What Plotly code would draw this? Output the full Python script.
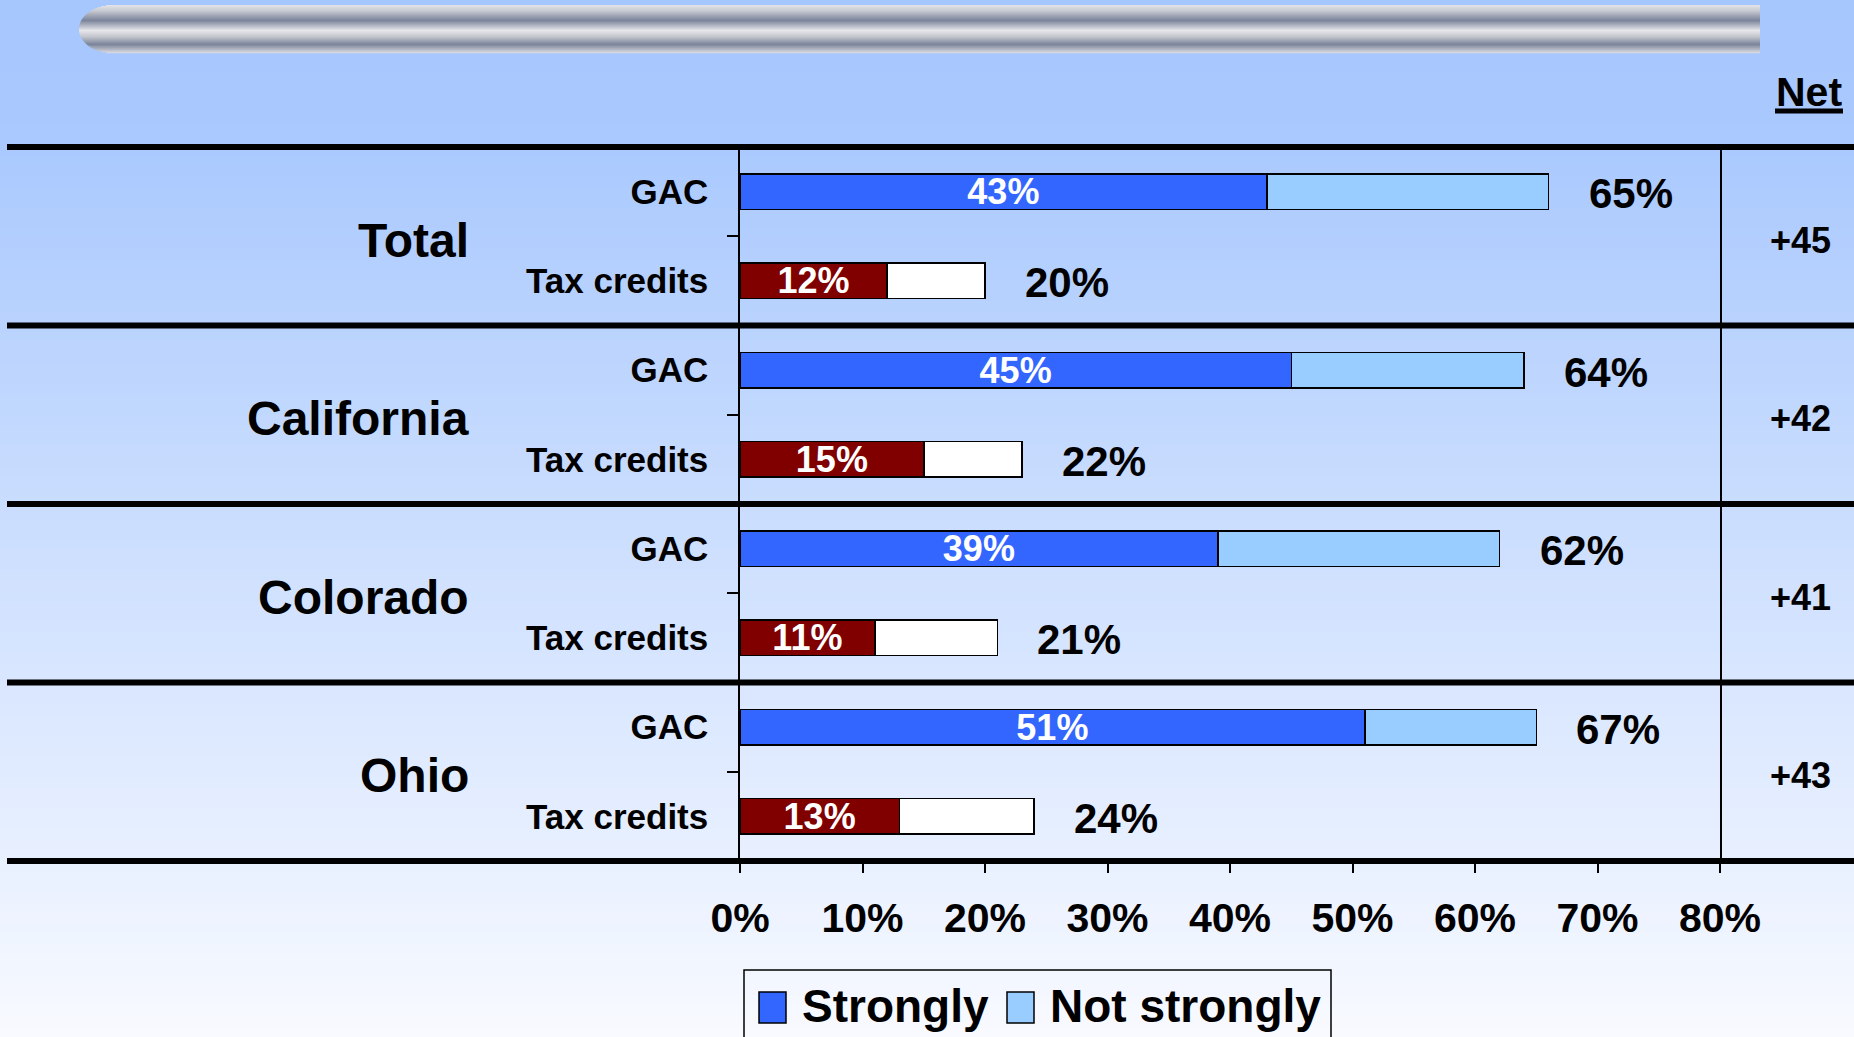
import plotly.graph_objects as go

W, H = 1854, 1037
FONT = "Liberation Sans, Arial, sans-serif"

groups = ["Total", "California", "Colorado", "Ohio"]
items = ["GAC", "Tax credits"]

gac_strongly = [43, 45, 39, 51]
gac_not_strongly = [23, 19, 23, 14]
gac_total_labels = ["65%", "64%", "62%", "67%"]

tax_strongly = [12, 15, 11, 13]
tax_not_strongly = [8, 8, 10, 11]
tax_total_labels = ["20%", "22%", "21%", "24%"]

net_labels = ["+45", "+42", "+41", "+43"]

x_ticks = [0, 10, 20, 30, 40, 50, 60, 70, 80]
legend_names = ["Strongly", "Not strongly"]

COLORS = {
    "gac_strong": "#3366FF",
    "gac_not": "#99CCFF",
    "tax_strong": "#800000",
    "tax_not": "#FFFFFF",
}

gac_pos = [2 * i for i in range(len(groups))]
tax_pos = [2 * i + 1 for i in range(len(groups))]


def px_x(x):
    return x / W


def px_y(y):
    return 1 - y / H


def hex_to_rgb(h):
    h = h.lstrip("#")
    return tuple(int(h[i:i + 2], 16) for i in (0, 2, 4))


def blend(stops, t):
    # stops: list of (pos, hex)
    for (p0, c0), (p1, c1) in zip(stops, stops[1:]):
        if p0 <= t <= p1:
            f = 0 if p1 == p0 else (t - p0) / (p1 - p0)
            a, b = hex_to_rgb(c0), hex_to_rgb(c1)
            return "rgb(%d,%d,%d)" % tuple(round(a[k] + f * (b[k] - a[k])) for k in range(3))
    return stops[-1][1]


Y_DOMAIN = [px_y(861), px_y(147)]
Y_RANGE = [7.5, -0.5]


def y_to_paper(v):
    # category position -> paper fraction (shapes on yref="y" get clipped at the edges)
    f = (v - Y_RANGE[0]) / (Y_RANGE[1] - Y_RANGE[0])
    return Y_DOMAIN[0] + f * (Y_DOMAIN[1] - Y_DOMAIN[0])


fig = go.Figure()

bar_line = dict(color="black", width=1.5)
in_bar_font = dict(color="white", size=36, family=FONT, weight="bold")
fig.add_bar(
    y=gac_pos, x=gac_strongly, orientation="h", name=legend_names[0], width=0.4,
    marker=dict(color=COLORS["gac_strong"], line=bar_line),
    text=[f"{v}%" for v in gac_strongly], textposition="inside",
    insidetextanchor="middle", constraintext="none", textangle=0,
    textfont=in_bar_font,
)
fig.add_bar(
    y=gac_pos, x=gac_not_strongly, orientation="h", name=legend_names[1], width=0.4,
    marker=dict(color=COLORS["gac_not"], line=bar_line), textposition="none",
)
fig.add_bar(
    y=tax_pos, x=tax_strongly, orientation="h", name="Tax credits strongly", width=0.4,
    marker=dict(color=COLORS["tax_strong"], line=bar_line),
    text=[f"{v}%" for v in tax_strongly], textposition="inside",
    insidetextanchor="middle", constraintext="none", textangle=0,
    textfont=in_bar_font,
)
fig.add_bar(
    y=tax_pos, x=tax_not_strongly, orientation="h", name="Tax credits not strongly",
    width=0.4, marker=dict(color=COLORS["tax_not"], line=bar_line),
    textposition="none",
)

shapes = []

# background gradient
bg_stops = [(0, "#A6C6FE"), (0.14, "#AAC9FE"), (1, "#F8FAFF")]
n_bg = 100
for i in range(n_bg):
    y0 = H * i / n_bg
    y1 = H * (i + 1) / n_bg
    shapes.append(dict(
        type="rect", xref="paper", yref="paper", layer="below",
        x0=0, x1=1, y0=px_y(y1 + 1), y1=px_y(y0),
        fillcolor=blend(bg_stops, (i + 0.5) / n_bg), line=dict(width=0),
    ))

# metallic tube at the top
tube_stops = [
    (0, "#e4e4e8"), (0.12, "#c8cad2"), (0.32, "#7a849a"), (0.53, "#e6e6ea"),
    (0.66, "#c4c6ce"), (0.82, "#7a849a"), (1, "#dcdce2"),
]
t_top, t_bot, t_left, t_cap, t_right = 5, 53, 79, 113, 1760
cy, b = (t_top + t_bot) / 2, (t_bot - t_top) / 2
a = t_cap - t_left
for yy in range(t_top, t_bot):
    yc = yy + 0.5
    r = max(0.0, 1 - ((yc - cy) / b) ** 2) ** 0.5
    xl = t_cap - a * r
    shapes.append(dict(
        type="rect", xref="paper", yref="paper", layer="below",
        x0=px_x(xl), x1=px_x(t_right), y0=px_y(yy + 1.2), y1=px_y(yy),
        fillcolor=blend(tube_stops, (yc - t_top) / (t_bot - t_top)), line=dict(width=0),
    ))

# thick separators between groups
for bnd in [-0.5, 1.5, 3.5, 5.5, 7.5]:
    yp = y_to_paper(bnd)
    shapes.append(dict(
        type="line", xref="paper", yref="paper", layer="above",
        x0=px_x(7), x1=1, y0=yp, y1=yp, line=dict(color="black", width=6),
    ))

# underline for "Net"
shapes.append(dict(
    type="line", xref="paper", yref="paper",
    x0=px_x(1775), x1=px_x(1843), y0=px_y(111), y1=px_y(111),
    line=dict(color="black", width=5),
))

# legend box (bottom edge runs off the page, as in the original)
shapes.append(dict(
    type="rect", xref="paper", yref="paper",
    x0=px_x(744), x1=px_x(1331), y0=px_y(1060), y1=px_y(970),
    line=dict(color="black", width=1.5), fillcolor="rgba(0,0,0,0)",
))
swatch_x = [759, 1007]
text_x = [800, 1048]
swatch_colors = [COLORS["gac_strong"], COLORS["gac_not"]]
for sx, col in zip(swatch_x, swatch_colors):
    shapes.append(dict(
        type="rect", xref="paper", yref="paper",
        x0=px_x(sx), x1=px_x(sx + 27), y0=px_y(1023), y1=px_y(992),
        line=dict(color="black", width=1.5), fillcolor=col,
    ))

annotations = []
for i, g in enumerate(groups):
    annotations.append(dict(
        x=px_x(471), xref="paper", y=2 * i + 0.5, yref="y", yshift=-4,
        text=g, showarrow=False, xanchor="right", yanchor="middle",
        font=dict(size=48, family=FONT, color="black", weight="bold"),
    ))
    annotations.append(dict(
        x=px_x(1800), xref="paper", y=2 * i + 0.5, yref="y", yshift=-4,
        text=net_labels[i], showarrow=False, xanchor="center", yanchor="middle",
        font=dict(size=36, family=FONT, color="black", weight="bold"),
    ))
    annotations.append(dict(
        x=gac_strongly[i] + gac_not_strongly[i], y=gac_pos[i], xref="x", yref="y",
        xshift=38, yshift=-2, text=gac_total_labels[i], showarrow=False,
        xanchor="left", yanchor="middle",
        font=dict(size=42, family=FONT, color="black", weight="bold"),
    ))
    annotations.append(dict(
        x=tax_strongly[i] + tax_not_strongly[i], y=tax_pos[i], xref="x", yref="y",
        xshift=38, yshift=-2, text=tax_total_labels[i], showarrow=False,
        xanchor="left", yanchor="middle",
        font=dict(size=42, family=FONT, color="black", weight="bold"),
    ))

annotations.append(dict(
    x=px_x(1809), xref="paper", y=px_y(92), yref="paper", text="Net",
    showarrow=False, xanchor="center", yanchor="middle",
    font=dict(size=41, family=FONT, color="black", weight="bold"),
))
for tx, name in zip(text_x, legend_names):
    annotations.append(dict(
        x=px_x(tx), xref="paper", y=px_y(1006), yref="paper", text=name,
        showarrow=False, xanchor="left", yanchor="middle",
        font=dict(size=46, family=FONT, color="black", weight="bold"),
    ))

fig.update_layout(
    width=W, height=H, autosize=False,
    margin=dict(l=0, r=0, t=0, b=0, pad=0),
    paper_bgcolor="#F8FAFF",
    plot_bgcolor="rgba(0,0,0,0)",
    barmode="stack",
    font=dict(family=FONT, color="black"),
    shapes=shapes,
    annotations=annotations,
    showlegend=False,
    xaxis=dict(
        domain=[px_x(740), px_x(1720)], range=[0, 80],
        tickvals=x_ticks, ticktext=[f"{v}%" for v in x_ticks],
        ticks="outside", ticklen=11, tickwidth=1.5, tickcolor="black",
        showgrid=False, zeroline=False, showline=False, automargin=False,
        tickfont=dict(size=41, family=FONT, color="black", weight="bold"),
        ticklabelstandoff=10,
    ),
    yaxis=dict(
        domain=Y_DOMAIN, range=Y_RANGE,
        tickvals=gac_pos + tax_pos,
        ticktext=[items[0]] * len(groups) + [items[1]] * len(groups),
        ticks="", showline=True, mirror=True, linecolor="black", linewidth=1.5,
        showgrid=False, zeroline=False, automargin=False,
        tickfont=dict(size=35, family=FONT, color="black", weight="bold"),
        ticklabelstandoff=23,
        minor=dict(
            tickvals=[p + 0.5 for p in gac_pos], ticks="outside", ticklen=11,
            tickwidth=1.5, tickcolor="black", showgrid=False,
        ),
    ),
)

fig.write_html(
    "out.html",
    config={"displayModeBar": False},
    post_script="document.body.style.margin='0';document.body.style.overflow='hidden';",
)
